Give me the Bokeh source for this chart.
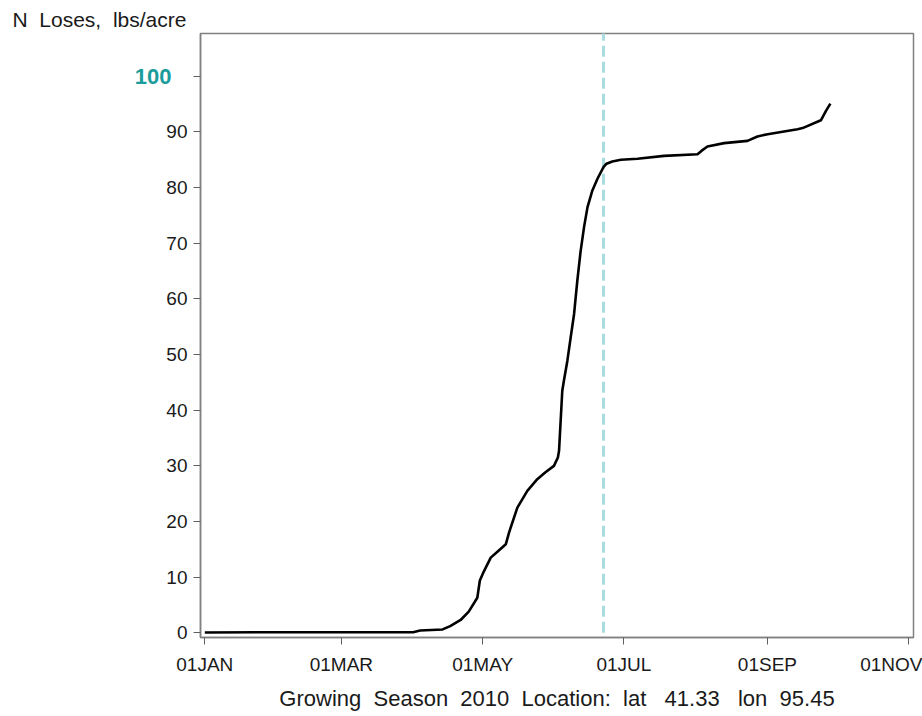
from bokeh.plotting import figure
from bokeh.models import Range1d, FixedTicker, LinearAxis
from bokeh.embed import file_html
from bokeh.resources import INLINE

# Days since 01JAN 2010 and cumulative N losses (lbs/acre)
day = [0, 30, 60, 90, 93, 102.7, 106, 110.5, 114, 117.7, 118.8, 120.5, 123.5, 127,
       130, 131.4, 135, 139.3, 143.6, 147, 150.8, 152.5, 153, 153.7, 154.4, 155.1,
       156.6, 158, 159.5, 160.9, 162.3, 163.8, 165.3, 167.4, 169.6, 172.2, 173.5,
       176, 179.7, 186.9, 198.4, 212.8, 214.5, 217.1, 224.3, 234.4, 238.7, 243.1,
       256, 258.2, 266.1, 268.3, 270.2]
n_loss = [0.05, 0.1, 0.1, 0.1, 0.4, 0.6, 1.2, 2.3, 3.8, 6.3, 9.4, 11.0, 13.5, 14.8,
          15.9, 18.0, 22.5, 25.5, 27.6, 28.8, 30.0, 31.5, 32.7, 38.1, 43.5, 45.3,
          48.9, 53.0, 57.3, 63.3, 68.5, 72.9, 76.5, 79.5, 81.6, 83.7, 84.3,
          84.7, 85.0, 85.2, 85.7, 86.0, 86.6, 87.4, 88.0, 88.4, 89.2, 89.6,
          90.5, 90.7, 92.1, 93.8, 95.1]
marker_day = 172.2

x_ticks = [0, 59, 120, 181, 243, 304]
x_tick_labels = ["01JAN", "01MAR", "01MAY", "01JUL", "01SEP", "01NOV"]
y_ticks = [0, 10, 20, 30, 40, 50, 60, 70, 80, 90, 100]
highlight_tick = [100]
y_title = "N\u00a0 Loses,\u00a0 lbs/acre"
x_title = "Growing\u00a0 Season\u00a0 2010\u00a0 Location:\u00a0 lat\u00a0\u00a0 41.33\u00a0\u00a0 lon\u00a0 95.45"

FONT = "Liberation Sans"
x0, x1 = -1.86, 306.1
y0, y1 = -0.85, 107.7

p = figure(width=922, height=716, frame_width=713, frame_height=604,
           min_border_left=200, min_border_right=9, min_border_top=33,
           min_border_bottom=79, x_range=Range1d(x0, x1), y_range=Range1d(y0, y1),
           output_backend="svg", toolbar_location=None)
p.grid.visible = False
p.outline_line_color = "#808080"
p.outline_line_width = 1.5
p.background_fill_color = "white"
p.border_fill_color = "white"

# y title drawn as the plot title, shifted to the left edge of the canvas
p.title.text = y_title
p.title.align = "left"
p.title.offset = -188
p.title.standoff = 5
p.title.text_font = FONT
p.title.text_font_size = "21px"
p.title.text_font_style = "normal"
p.title.text_color = "#1a1a1a"

xa = p.xaxis[0]
xa.ticker = FixedTicker(ticks=x_ticks)
xa.major_label_overrides = {t: l for t, l in zip(x_ticks, x_tick_labels)}
xa.axis_label = x_title
xa.axis_label_text_font = FONT
xa.axis_label_text_font_style = "normal"
xa.axis_label_text_font_size = "22px"
xa.axis_label_text_color = "#1a1a1a"
xa.axis_label_standoff = 8
xa.major_label_text_font = FONT
xa.major_label_text_font_size = "19px"
xa.major_label_text_color = "#1a1a1a"
xa.major_label_standoff = 9
xa.minor_tick_line_color = None
xa.major_tick_out = 7
xa.major_tick_in = 0
xa.axis_line_color = "#808080"
xa.axis_line_width = 1.5
xa.major_tick_line_color = "#606060"

ya = p.yaxis[0]
ya.ticker = FixedTicker(ticks=y_ticks)
ya.major_label_overrides = {100: " "}
ya.major_label_text_font = FONT
ya.major_label_text_font_size = "19px"
ya.major_label_text_color = "#1a1a1a"
ya.major_label_standoff = 6
ya.minor_tick_line_color = None
ya.major_tick_out = 7
ya.major_tick_in = 0
ya.axis_line_color = "#808080"
ya.axis_line_width = 1.5
ya.major_tick_line_color = "#606060"

# secondary left axis carrying only the teal "100" label
ya2 = LinearAxis(ticker=FixedTicker(ticks=highlight_tick))
ya2.axis_line_color = None
ya2.major_tick_line_color = None
ya2.minor_tick_line_color = None
ya2.major_tick_out = 0
ya2.major_tick_in = 0
ya2.major_label_standoff = -8
ya2.major_label_text_font = FONT
ya2.major_label_text_font_size = "22px"
ya2.major_label_text_font_style = "bold"
ya2.major_label_text_color = "#1a9c9c"
p.add_layout(ya2, "left")

p.segment(x0=[marker_day], y0=[0], x1=[marker_day], y1=[y1 + 5],
          line_color="#abdde0", line_width=3, line_dash="11 5")
p.line(day, n_loss, line_color="black", line_width=2.6)

open("out.html", "w").write(file_html(p, INLINE))
